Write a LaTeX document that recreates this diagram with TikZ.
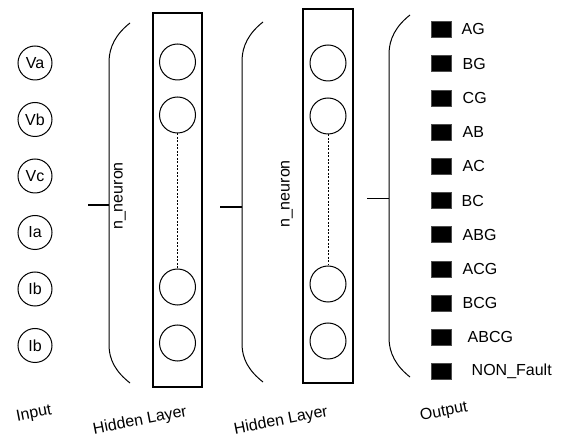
\documentclass[tikz,border=0pt]{standalone}
\usepackage{fontspec}
\setmainfont{Liberation Sans}
\usepackage{tikz}

\tikzset{
  neuron/.style={draw, circle, line width=1pt, minimum size=36pt, inner sep=0pt},
  inneuron/.style={draw, circle, line width=1pt, minimum size=34pt, inner sep=0pt},
  outbit/.style={fill=black, draw=black!70, line width=0.5pt, minimum width=20pt, minimum height=16pt, inner sep=0pt},
  layername/.style={font=\fontsize{16}{19}\selectfont, inner sep=0pt}
}
\newcommand{\tilted}[1]{\rotatebox{11}{#1}}

\begin{document}
\begin{tikzpicture}[x=1pt, y=1pt, font=\fontsize{16}{19}\selectfont]
    \useasboundingbox (0,0) rectangle (565,-443);

    % input layer
    \node[inneuron] (va) at (35,-63) {Va};
    \node[inneuron] (vb) at (35,-119.5) {Vb};
    \node[inneuron] (vc) at (35,-176) {Vc};
    \node[inneuron] (ia) at (35,-232.5) {Ia};
    \node[inneuron] (ib) at (35,-289) {Ib};
    \node[inneuron] (ic) at (35,-345.5) {Ib};
    \node[layername] (lin) at (34,-414) {\tilted{Input}};

    % first hidden layer
    \draw[line width=1.6pt] (153,-13) rectangle (202,-387);
    \node[neuron] (h1a) at (177.5,-62) {};
    \node[neuron] (h1b) at (177.5,-115) {};
    \node[neuron] (h1c) at (177.5,-287) {};
    \node[neuron] (h1d) at (177.5,-343) {};
    \draw[dash pattern=on 2pt off 1.5pt, line width=0.9pt] (h1b) -- (h1c);
    \node[rotate=90] (n1) at (120,-196) {n\_neuron};
    \draw[line width=1pt] (130,-23) .. controls (116,-34) and (109,-47) .. (109,-62)
        -- (109,-345) .. controls (109,-360) and (116,-372) .. (130,-383);
    \coordinate (t1) at (109,-205);
    \draw[line width=1.4pt] (t1) -- ++(-21,0);
    \node[layername] (lh1) at (140,-421) {\tilted{Hidden Layer}};

    % second hidden layer
    \draw[line width=1.6pt] (303,-9) rectangle (353,-383);
    \node[neuron] (h2a) at (328,-63) {};
    \node[neuron] (h2b) at (328,-116) {};
    \node[neuron] (h2c) at (328,-284) {};
    \node[neuron] (h2d) at (328,-341) {};
    \draw[dash pattern=on 2pt off 1.5pt, line width=0.9pt] (h2b) -- (h2c);
    \node[rotate=90] (n2) at (287,-194) {n\_neuron};
    \draw[line width=1pt] (263,-22) .. controls (249,-33) and (242,-46) .. (242,-61)
        -- (242,-344) .. controls (242,-359) and (249,-371) .. (263,-382);
    \coordinate (t2) at (242,-207);
    \draw[line width=1.4pt] (t2) -- ++(-22,0);
    \node[layername] (lh2) at (281,-421) {\tilted{Hidden Layer}};

    % output layer
    \draw[line width=1pt] (410,-15) .. controls (396,-26) and (389,-39) .. (389,-54)
        -- (389,-338) .. controls (389,-353) and (396,-366) .. (410,-377);
    \coordinate (t3) at (389,-199);
    \draw[line width=1pt] (t3) -- ++(-22,0);
    \foreach \lbl/\dx [count=\i from 0] in {AG/0,BG/1,CG/1,AB/1,AC/1,BC/0,ABG/1,ACG/1,BCG/1,ABCG/6,NON\_Fault/10}{
      \node[outbit] (o\i) at (441.7,-29.3-34.24*\i) {};
      \node[anchor=west, inner sep=0pt] (l\i) at (461.5+\dx,-29.3-34.24*\i) {\lbl};
    }
    \node[layername] (lout) at (444,-412) {\tilted{Output}};
\end{tikzpicture}
\end{document}
